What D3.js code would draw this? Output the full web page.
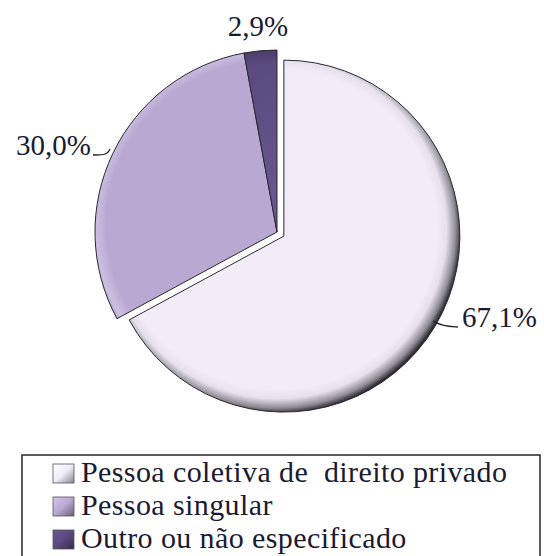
<!DOCTYPE html>
<html lang="pt">
    <head>
        <meta charset="UTF-8" />
        <title>Natureza jurídica</title>
        <script src="https://d3js.org/d3.v7.min.js"></script>
        <style>
            body {
                margin: 0;
                padding: 0;
                background: #fff;
            }
            svg text {
                font-family: 'Liberation Serif', 'DejaVu Serif', serif;
                fill: #1b1a33;
            }
            .lbl {
                font-size: 29px;
            }
            .leg {
                font-size: 30px;
                letter-spacing: 0.4px;
                white-space: pre;
            }
        </style>
    </head>
    <body>
        <svg id="chart" width="544" height="556"></svg>

        <script>
            const categories = ['Pessoa coletiva de  direito privado', 'Pessoa singular', 'Outro ou não especificado'];
            const values = [67.1, 30.0, 2.9];
            const valueLabels = ['67,1%', '30,0%', '2,9%'];
            const colors = ['#f1ecf7', '#b9a9d2', '#5b4a7f'];

            const svg = d3.select('#chart');
            const cx = 277,
                cy = 232;
            const radius = 182;

            // shading stops per slice (edge of a bevelled pie)
            const shades = [
                [[0, '#f1ecf7'], [0.87, '#f1ecf7'], [0.92, '#e6e0ec'], [0.97, '#8f8a96'], [1, '#2e2c33']],
                [[0, '#b9a9d2'], [0.86, '#b9a9d2'], [0.92, '#cdbfe3'], [0.975, '#8a7d9f'], [1, '#231e2d']],
                [[0, '#6a5890'], [0.85, '#5b4a7f'], [0.95, '#44365f'], [1, '#1c1626']],
            ];

            const pie = d3
                .pie()
                .sort(null)
                .value((d) => d)
                .startAngle(0)
                .endAngle(2 * Math.PI);
            const arcs = pie(values);

            // big slice is pulled out a little
            const explode = [8, 0, 0];
            const radii = [176, radius, radius];
            const shift = 7; // light from the upper left

            const defs = svg.append('defs');

            arcs.forEach((a, i) => {
                const mid = (a.startAngle + a.endAngle) / 2;
                a.dx = explode[i] * Math.sin(mid);
                a.dy = -explode[i] * Math.cos(mid);
                a.r = radii[i];
                const g = defs
                    .append('radialGradient')
                    .attr('id', `sh${i}`)
                    .attr('gradientUnits', 'userSpaceOnUse')
                    .attr('cx', -shift)
                    .attr('cy', -shift)
                    .attr('r', a.r + shift * 1.2);
                shades[i].forEach((s) => g.append('stop').attr('offset', s[0]).attr('stop-color', s[1]));
            });

            const slices = svg
                .selectAll('g.slice')
                .data(arcs)
                .join('g')
                .attr('class', 'slice')
                .attr('transform', (d) => `translate(${cx + d.dx},${cy + d.dy})`);

            slices
                .append('path')
                .attr('d', (d) => d3.arc().innerRadius(0).outerRadius(d.r)(d))
                .attr('fill', (d, i) => `url(#sh${i})`)
                .attr('stroke', '#2a2830')
                .attr('stroke-width', 1)
                .attr('stroke-linejoin', 'round');

            // value labels
            const labelPos = [
                { x: 462, y: 327, anchor: 'start', line: [[433, 321], [443, 326], [458, 327]] },
                { x: 91, y: 155, anchor: 'end', line: [[110, 149], [107, 155], [93, 155]] },
                { x: 258, y: 36, anchor: 'middle', line: null },
            ];

            labelPos.forEach((p, i) => {
                if (p.line) {
                    svg.append('path')
                        .attr('d', d3.line().curve(d3.curveBasis)(p.line))
                        .attr('fill', 'none')
                        .attr('stroke', '#222')
                        .attr('stroke-width', 1.3);
                }
                svg.append('text')
                    .attr('class', 'lbl')
                    .attr('x', p.x)
                    .attr('y', p.y)
                    .attr('text-anchor', p.anchor)
                    .text(valueLabels[i]);
            });

            // legend
            const legend = svg.append('g');
            legend
                .append('rect')
                .attr('x', 22)
                .attr('y', 455)
                .attr('width', 518)
                .attr('height', 120)
                .attr('fill', '#fff')
                .attr('stroke', '#333')
                .attr('stroke-width', 1.6);

            categories.forEach((c, i) => {
                const base = 482 + i * 33;
                const lg = defs
                    .append('linearGradient')
                    .attr('id', `lg${i}`)
                    .attr('x1', 0)
                    .attr('y1', 0)
                    .attr('x2', 1)
                    .attr('y2', 1);
                lg.append('stop').attr('offset', 0).attr('stop-color', d3.color(colors[i]).brighter(0.4));
                lg.append('stop').attr('offset', 0.5).attr('stop-color', colors[i]);
                lg.append('stop').attr('offset', 1).attr('stop-color', d3.color(colors[i]).darker(1.6));
                legend
                    .append('rect')
                    .attr('x', 53)
                    .attr('y', base - 18)
                    .attr('width', 21)
                    .attr('height', 19)
                    .attr('fill', `url(#lg${i})`)
                    .attr('stroke', '#555')
                    .attr('stroke-width', 0.8);
                legend
                    .append('text')
                    .attr('class', 'leg')
                    .attr('x', 81)
                    .attr('y', base)
                    .attr('xml:space', 'preserve')
                    .text(c);
            });
        </script>
    </body>
</html>
